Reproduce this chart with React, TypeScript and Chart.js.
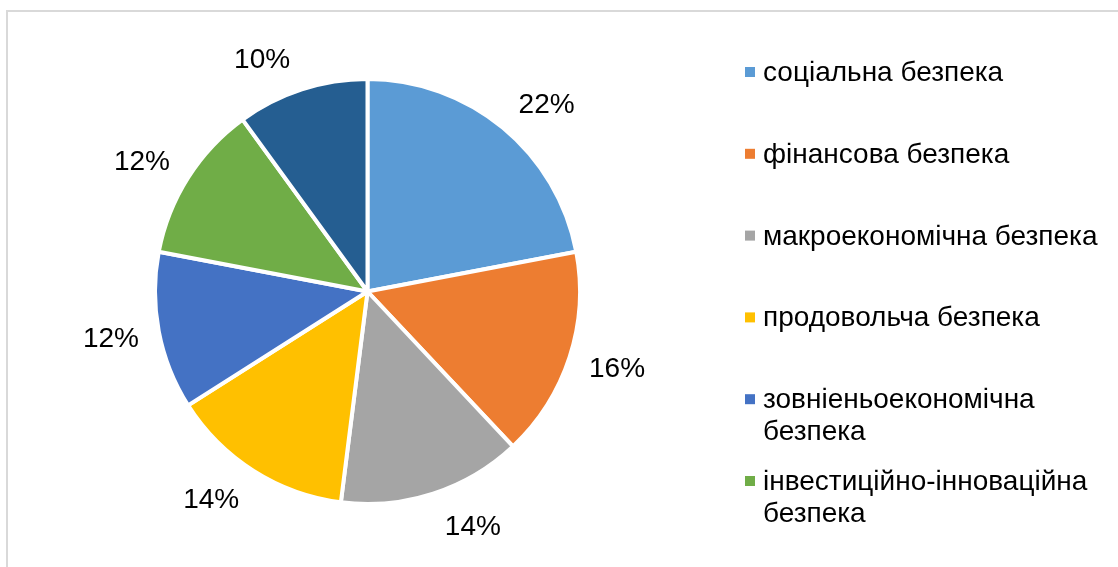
import React, { useEffect, useRef } from "react";
import { Chart, registerables } from "chart.js";

Chart.register(...registerables);

const categories = [
  "соціальна безпека",
  "фінансова безпека",
  "макроекономічна безпека",
  "продовольча безпека",
  "зовніеньоекономічна безпека",
  "інвестиційно-інноваційна безпека",
  "енергетична безпека",
];
const shares = [22, 16, 14, 14, 12, 12, 10];
const sliceColors = ["#5B9BD5", "#ED7D31", "#A5A5A5", "#FFC000", "#4472C4", "#70AD47", "#255E91"];

const FONT = '"Liberation Sans", Arial, sans-serif';
const FONT_SIZE = 28;

const labelPlugin = {
  id: "outsideLabels",
  afterDatasetsDraw(chart: any) {
    const ctx = chart.ctx as CanvasRenderingContext2D;
    const meta = chart.getDatasetMeta(0);
    const data = chart.data.datasets[0].data as number[];
    const total = data.reduce((a, b) => a + b, 0);
    const bw = chart.data.datasets[0].borderWidth as number;
    ctx.save();
    ctx.font = `${FONT_SIZE}px ${FONT}`;
    ctx.fillStyle = "#000";
    ctx.textAlign = "center";
    ctx.textBaseline = "alphabetic";
    const capH = FONT_SIZE * 0.716;
    meta.data.forEach((arc: any, i: number) => {
      const { x, y, startAngle, endAngle, outerRadius } = arc.getProps(
        ["x", "y", "startAngle", "endAngle", "outerRadius"],
        true
      );
      const R = outerRadius - bw / 2;
      const mid = (startAngle + endAngle) / 2;
      const dx = Math.cos(mid);
      const dy = Math.sin(mid);
      const text = Math.round((data[i] / total) * 100) + "%";
      const w = ctx.measureText(text).width;
      const cx = x + dx * (R + 14) + Math.sign(dx) * (w / 2 + 8);
      const cy = y + dy * (R + 24.5 + capH / 2);
      ctx.fillText(text, cx, cy + capH / 2);
    });
    ctx.restore();
  },
};

function wrapText(ctx: CanvasRenderingContext2D, text: string, maxW: number): string[] {
  const words = text.split(" ");
  const lines: string[] = [];
  let cur = "";
  for (const w of words) {
    const test = cur ? cur + " " + w : w;
    if (ctx.measureText(test).width > maxW && cur) {
      lines.push(cur);
      cur = w;
    } else {
      cur = test;
    }
  }
  if (cur) lines.push(cur);
  return lines;
}

const legendPlugin = {
  id: "sideLegend",
  afterDraw(chart: any) {
    const ctx = chart.ctx as CanvasRenderingContext2D;
    const labels = chart.data.labels as string[];
    const colors = chart.data.datasets[0].backgroundColor as string[];
    const boxX = 745;
    const textX = 763;
    const firstBaseline = 81;
    const step = 81.8;
    const lineH = 31.5;
    const bottomLimit = 545;
    const maxW = 348;
    ctx.save();
    ctx.font = `${FONT_SIZE}px ${FONT}`;
    ctx.textAlign = "left";
    ctx.textBaseline = "alphabetic";
    labels.forEach((label, i) => {
      const base = firstBaseline + step * i;
      const lines = wrapText(ctx, label, maxW);
      const lastBase = base + lineH * (lines.length - 1);
      if (lastBase + 7 > bottomLimit) return;
      ctx.fillStyle = colors[i];
      ctx.fillRect(boxX, base - 14, 10, 10);
      ctx.fillStyle = "#000";
      lines.forEach((ln, j) => ctx.fillText(ln, textX, base + lineH * j));
    });
    ctx.restore();
  },
};

export default function App() {
  const ref = useRef<HTMLCanvasElement>(null);
  useEffect(() => {
    const chart = new Chart(ref.current as HTMLCanvasElement, {
      type: "pie",
      data: {
        labels: categories,
        datasets: [
          {
            data: shares,
            backgroundColor: sliceColors,
            borderColor: "#ffffff",
            borderWidth: 4,
          },
        ],
      },
      options: {
        responsive: false,
        animation: false,
        events: [],
        layout: { padding: { left: 153, right: 536, top: 77, bottom: 61 } },
        plugins: { legend: { display: false }, tooltip: { enabled: false } },
      },
      plugins: [labelPlugin, legendPlugin],
    } as any);
    return () => chart.destroy();
  }, []);
  return (
    <div style={{ position: "fixed", inset: 0, overflow: "hidden", background: "#fff" }}>
      <div
        style={{
          position: "absolute",
          left: 6,
          top: 10,
          width: 1300,
          height: 800,
          border: "2px solid #d9d9d9",
        }}
      />
      <canvas
        ref={ref}
        width={1118}
        height={567}
        style={{ position: "absolute", left: 0, top: 0, width: 1118, height: 567 }}
      />
    </div>
  );
}
